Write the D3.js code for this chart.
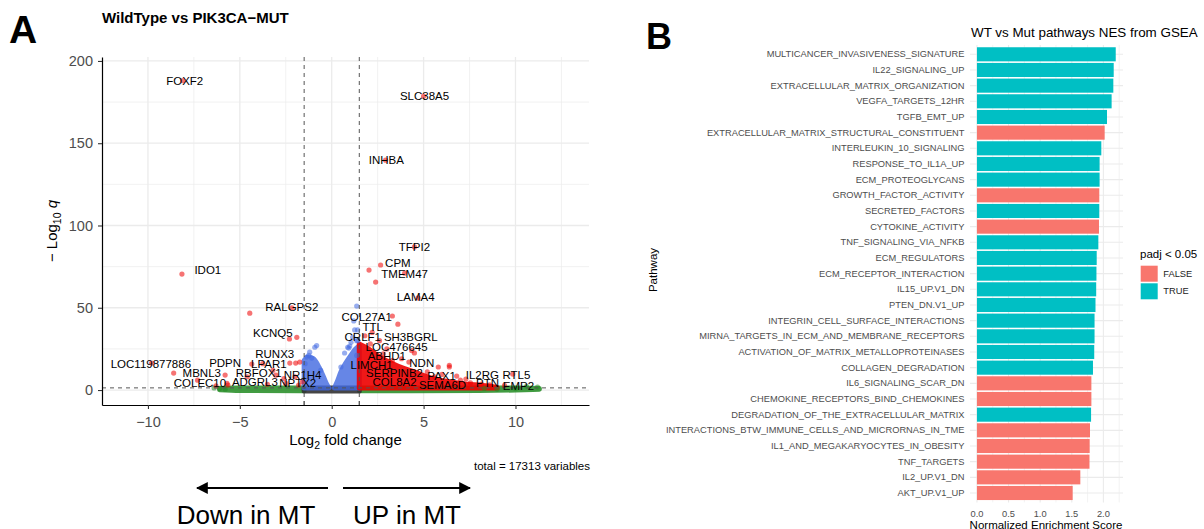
<!DOCTYPE html>
<html>
<head>
<meta charset="utf-8">
<script src="https://cdn.jsdelivr.net/npm/d3@7"></script>
<style>
body { margin: 0; background: #fff; }
svg { display: block; font-family: "Liberation Sans", Arial, Helvetica, sans-serif; }
</style>
</head>
<body>
<svg id="fig" width="1204" height="529"></svg>
<script>
// ---------------- data: panel A (volcano) ----------------
const xTicksA = [-10, -5, 0, 5, 10];
const yTicksA = [0, 50, 100, 150, 200];
const xMinorA = [-7.5, -2.5, 2.5, 7.5, 12.5];
const yMinorA = [25, 75, 125, 175];
const fcCut = 1.5;
const qCut = 1.3;

// dense clouds, [log2FC, low, high] in -log10 q
const nsCloud = [[-1.5, -0.6, 1.2], [1.5, -0.6, 1.2]];
const greenLeft = [[-6.1, 0.2, 1.0], [-5, -0.3, 1.3], [-1.5, -0.5, 1.3]];
const greenRight = [[1.5, -0.5, 1.3], [8, -0.3, 1.3], [10, 0, 1.2], [11.3, 0.4, 1.0]];
const blueLeft = [[-1.5, 1.3, 18], [-1.3, 1.3, 20], [-1.0, 1.3, 19], [-0.7, 1.3, 14], [-0.45, 1.3, 8], [-0.25, 1.3, 3], [-0.15, 1.3, 1.3]];
const blueRight = [[0.15, 1.3, 1.3], [0.3, 1.3, 5], [0.5, 1.3, 11], [0.8, 1.3, 17], [1.1, 1.3, 22], [1.3, 1.3, 25], [1.5, 1.3, 27]];
const redRight = [[1.5, 1.3, 28], [2.0, 1.3, 25], [2.5, 1.3, 21], [3.5, 1.3, 15], [4.5, 1.3, 11], [5.5, 1.3, 7], [7, 1.3, 4], [8.5, 1.3, 2.4], [9, 1.3, 1.6]];

// scattered points [log2FC, -log10 q]
const redPts = [
  [-8.1, 188], [5.0, 178.6], [2.93, 139.7], [4.5, 87], [2.66, 76], [2.03, 72.9], [3.97, 71], [2.39, 65.6],
  [4.7, 56], [-8.15, 70.5], [-4.46, 46.7], [-2.17, 50], [-1.9, 32], [-2.3, 31], [-9.8, 16.4], [-8.6, 10.3],
  [-7.3, 6], [-6.3, 2.5], [-5.65, 3], [-5.8, 9.1], [-4.35, 15.8], [-3.75, 16], [-3.04, 9], [-2.28, 16.4],
  [-1.96, 16.4], [-1.74, 17], [-3.2, 12], [-2.0, 8], [-4.6, 8], [-5.7, 4], [3.3, 45], [3.6, 40],
  [4.5, 22.5], [4.35, 24], [5.8, 14], [6.4, 14], [6.8, 8.5], [7.55, 4.3], [8.15, 3.6], [9.85, 9.7],
  [7.3, 6.7], [5.6, 8], [6.4, 15], [2.2, 35], [2.6, 30], [1.8, 33], [3.0, 25], [3.8, 19], [4.2, 17],
  [5.2, 11], [6.0, 9.5], [7.0, 6], [8.6, 3.2], [9.4, 2.8], [2.1, 28], [2.8, 22], [3.3, 18],
  [-1.6, 5], [-1.8, 3], [-2.5, 4], [-3.5, 3.5], [-2.6, 7]
];
const bluePts = [
  [-0.92, 26], [-1.25, 21], [-1.36, 20], [-1.09, 19.4], [-0.82, 27], [1.36, 51], [1.25, 36.5], [0.98, 26.7],
  [0.87, 26], [1.41, 36.5], [1.36, 30], [1.14, 32], [1.36, 21], [0.7, 22.5], [0.93, 25.5], [1.42, 30],
  [-1.45, 16], [-0.6, 12], [0.5, 14], [1.2, 42], [-1.2, 23], [1.05, 29]
];
const greenPts = [[-6.1, 1], [-5.8, 0.5], [-6.4, 1.3], [11.2, 1.8], [10.6, 2.3], [10.0, 1.0], [8.3, 1], [9.0, 0.6]];

// gene labels [name, log2FC, -log10 q] (label centre)
const geneLabels = [
  ["FOXF2", -8.0, 187.7], ["SLC38A5", 5.05, 178.6], ["INHBA", 2.97, 139.7], ["TFPI2", 4.5, 86.9],
  ["CPM", 3.6, 77.2], ["TMEM47", 3.97, 70.5], ["LAMA4", 4.57, 56.5], ["IDO1", -6.74, 72.9],
  ["RALGPS2", -2.17, 50.4], ["KCNQ5", -3.2, 34.6], ["RUNX3", -3.1, 21.9], ["LOC119877886", -9.84, 15.8],
  ["MBNL3", -7.07, 10.3], ["PDPN", -5.8, 16.4], ["LPAR1", -3.42, 15.8], ["RBFOX1", -3.97, 10.3],
  ["NR1H4", -1.58, 9.1], ["COLEC10", -7.17, 4.25], ["ADGRL3", -4.18, 4.9], ["NPTX2", -1.85, 4.25],
  ["COL27A1", 1.9, 44.4], ["TTL", 2.23, 38.3], ["CRLF1", 1.69, 32.2], ["SH3BGRL", 4.3, 32.2],
  ["LOC476645", 3.53, 26.1], ["ABHD1", 3.0, 20.7], ["NDN", 4.9, 16.4], ["LIMCH1", 2.17, 15.2],
  ["SERPINB2", 3.42, 10.3], ["PAX1", 5.98, 8.5], ["IL2RG", 8.2, 9.1], ["RTL5", 10.05, 9.1],
  ["COL8A2", 3.42, 4.9], ["SEMA6D", 6.03, 3.0], ["PTN", 8.48, 4.25], ["EMP2", 10.16, 2.4]
];
const totalVars = 17313;

// ---------------- data: panel B (GSEA NES) ----------------
const pathways = [
  "MULTICANCER_INVASIVENESS_SIGNATURE", "IL22_SIGNALING_UP", "EXTRACELLULAR_MATRIX_ORGANIZATION",
  "VEGFA_TARGETS_12HR", "TGFB_EMT_UP", "EXTRACELLULAR_MATRIX_STRUCTURAL_CONSTITUENT",
  "INTERLEUKIN_10_SIGNALING", "RESPONSE_TO_IL1A_UP", "ECM_PROTEOGLYCANS", "GROWTH_FACTOR_ACTIVITY",
  "SECRETED_FACTORS", "CYTOKINE_ACTIVITY", "TNF_SIGNALING_VIA_NFKB", "ECM_REGULATORS",
  "ECM_RECEPTOR_INTERACTION", "IL15_UP.V1_DN", "PTEN_DN.V1_UP", "INTEGRIN_CELL_SURFACE_INTERACTIONS",
  "MIRNA_TARGETS_IN_ECM_AND_MEMBRANE_RECEPTORS", "ACTIVATION_OF_MATRIX_METALLOPROTEINASES",
  "COLLAGEN_DEGRADATION", "IL6_SIGNALING_SCAR_DN", "CHEMOKINE_RECEPTORS_BIND_CHEMOKINES",
  "DEGRADATION_OF_THE_EXTRACELLULAR_MATRIX", "INTERACTIONS_BTW_IMMUNE_CELLS_AND_MICRORNAS_IN_TME",
  "IL1_AND_MEGAKARYOCYTES_IN_OBESITY", "TNF_TARGETS", "IL2_UP.V1_DN", "AKT_UP.V1_UP"
];
const nes = [
  2.195, 2.163, 2.157, 2.13, 2.057, 2.02, 1.967, 1.94, 1.94, 1.935,
  1.935, 1.93, 1.92, 1.894, 1.89, 1.886, 1.875, 1.86, 1.86, 1.855,
  1.835, 1.81, 1.81, 1.805, 1.788, 1.783, 1.78, 1.635, 1.514
];
const padjSig = [
  true, true, true, true, true, false, true, true, true, false,
  true, false, true, true, true, true, true, true, true, true,
  true, false, false, true, false, false, false, false, false
];
const xTicksB = [0, 0.5, 1.0, 1.5, 2.0];
const xMinorB = [0.25, 0.75, 1.25, 1.75, 2.25];

// ---------------- drawing ----------------
const svg = d3.select("#fig");
svg.append("rect").attr("width", 1204).attr("height", 529).attr("fill", "#fff");

const grid = "#ebebeb";
const textGrey = "#4d4d4d";

// ===== Panel A =====
const xA = d3.scaleLinear([-12.5, 14], [102, 589]);
const yA = d3.scaleLinear([-9.1, 202.4], [405, 57]);
const gA = svg.append("g");

// grid lines
gA.append("g").selectAll("line").data(xMinorA).join("line")
  .attr("x1", d => xA(d)).attr("x2", d => xA(d)).attr("y1", 57).attr("y2", 405)
  .attr("stroke", grid).attr("stroke-width", 0.7);
gA.append("g").selectAll("line").data(yMinorA).join("line")
  .attr("y1", d => yA(d)).attr("y2", d => yA(d)).attr("x1", 102).attr("x2", 589)
  .attr("stroke", grid).attr("stroke-width", 0.7);
gA.append("g").selectAll("line").data(xTicksA).join("line")
  .attr("x1", d => xA(d)).attr("x2", d => xA(d)).attr("y1", 57).attr("y2", 405)
  .attr("stroke", grid).attr("stroke-width", 1.3);
gA.append("g").selectAll("line").data(yTicksA).join("line")
  .attr("y1", d => yA(d)).attr("y2", d => yA(d)).attr("x1", 102).attr("x2", 589)
  .attr("stroke", grid).attr("stroke-width", 1.3);

// dense clouds
const cloud = d3.area().curve(d3.curveMonotoneX)
  .x(d => xA(d[0])).y0(d => yA(d[1])).y1(d => yA(d[2]));
function drawCloud(data, color, op) {
  gA.append("g").attr("opacity", op)
    .append("path").attr("d", cloud(data))
    .attr("fill", color).attr("stroke", color)
    .attr("stroke-width", 5).attr("stroke-linejoin", "round");
}
drawCloud(greenLeft, "#228B22", 0.85);
drawCloud(greenRight, "#228B22", 0.85);
drawCloud(nsCloud, "#333333", 0.9);
drawCloud(blueLeft, "#4169E1", 0.8);
drawCloud(blueRight, "#4169E1", 0.8);
drawCloud(redRight, "#EE0000", 0.9);

// scattered points
function drawPts(data, color) {
  gA.append("g").selectAll("circle").data(data).join("circle")
    .attr("cx", d => xA(d[0])).attr("cy", d => yA(d[1])).attr("r", 2.6)
    .attr("fill", color).attr("fill-opacity", 0.55);
}
drawPts(greenPts, "#228B22");
drawPts(bluePts, "#4169E1");
drawPts(redPts, "#EE0000");

// cut-off lines
gA.append("g").selectAll("line").data([-fcCut, fcCut]).join("line")
  .attr("x1", d => xA(d)).attr("x2", d => xA(d)).attr("y1", 57).attr("y2", 405)
  .attr("stroke", "#555").attr("stroke-width", 1).attr("stroke-dasharray", "4,4");
gA.append("line")
  .attr("x1", 102).attr("x2", 589).attr("y1", yA(qCut)).attr("y2", yA(qCut))
  .attr("stroke", "#555").attr("stroke-width", 1).attr("stroke-dasharray", "4,4");

// gene labels
gA.append("g").selectAll("text").data(geneLabels).join("text")
  .attr("x", d => xA(d[1])).attr("y", d => yA(d[2]))
  .attr("text-anchor", "middle").attr("dominant-baseline", "central")
  .attr("font-size", 11.5).attr("fill", "#000")
  .text(d => d[0]);

// axes
const axA_x = gA.append("g").attr("transform", "translate(0,405)")
  .call(d3.axisBottom(xA).tickValues(xTicksA).tickSize(4).tickSizeOuter(0).tickPadding(8));
const axA_y = gA.append("g").attr("transform", "translate(102,0)")
  .call(d3.axisLeft(yA).tickValues(yTicksA).tickSize(4).tickSizeOuter(0).tickPadding(5));
[axA_x, axA_y].forEach(ax => {
  ax.select(".domain").attr("stroke", "#000").attr("stroke-width", 1.2);
  ax.selectAll(".tick line").attr("stroke", "#333").attr("stroke-width", 1.1);
  ax.selectAll(".tick text").attr("font-size", 14.5).attr("fill", textGrey)
    .attr("font-family", "Liberation Sans, Arial, sans-serif");
});
// small ticks at the cut-offs on the x axis
gA.append("g").selectAll("line").data([-fcCut, fcCut]).join("line")
  .attr("x1", d => xA(d)).attr("x2", d => xA(d)).attr("y1", 405).attr("y2", 401)
  .attr("stroke", "#555");

// titles
svg.append("text").attr("x", 9).attr("y", 43)
  .attr("font-size", 39).attr("font-weight", "bold").text("A");
svg.append("text").attr("x", 102).attr("y", 23)
  .attr("font-size", 15).attr("font-weight", "bold").text("WildType vs PIK3CA\u2212MUT");

const xl = svg.append("text").attr("x", 345.5).attr("y", 445)
  .attr("text-anchor", "middle").attr("font-size", 15).attr("fill", "#000");
xl.append("tspan").text("Log");
xl.append("tspan").attr("font-size", 10.5).attr("dy", 4).text("2");
xl.append("tspan").attr("dy", -4).text(" fold change");

const yl = svg.append("text").attr("transform", "translate(57,231) rotate(-90)")
  .attr("text-anchor", "middle").attr("font-size", 15).attr("fill", "#000");
yl.append("tspan").text("\u2212 Log");
yl.append("tspan").attr("font-size", 10.5).attr("dy", 4).text("10");
yl.append("tspan").attr("dy", -4).attr("font-style", "italic").text(" q");

svg.append("text").attr("x", 590).attr("y", 470)
  .attr("text-anchor", "end").attr("font-size", 11.5).attr("fill", "#000")
  .text(`total = ${totalVars} variables`);

// direction arrows
const defs = svg.append("defs");
defs.append("marker").attr("id", "head").attr("viewBox", "0 0 10 10")
  .attr("refX", 9).attr("refY", 5).attr("markerWidth", 6).attr("markerHeight", 6)
  .attr("markerUnits", "strokeWidth").attr("orient", "auto")
  .append("path").attr("d", "M0,0 L10,5 L0,10 Z").attr("fill", "#000");
svg.append("line").attr("x1", 328).attr("x2", 197).attr("y1", 488).attr("y2", 488)
  .attr("stroke", "#000").attr("stroke-width", 2).attr("marker-end", "url(#head)");
svg.append("line").attr("x1", 343).attr("x2", 470).attr("y1", 488).attr("y2", 488)
  .attr("stroke", "#000").attr("stroke-width", 2).attr("marker-end", "url(#head)");
svg.append("text").attr("x", 246).attr("y", 524).attr("text-anchor", "middle")
  .attr("font-size", 26).text("Down in MT");
svg.append("text").attr("x", 407).attr("y", 524).attr("text-anchor", "middle")
  .attr("font-size", 26).text("UP in MT");

// ===== Panel B =====
const xB = d3.scaleLinear([-0.11, 2.31], [970, 1123]);
const yB = d3.scalePoint(pathways, [54.3, 493]);
const barH = yB.step() * 0.9;
const bTop = 54.3 - yB.step() * 0.6, bBottom = 493 + yB.step() * 0.6;
const gB = svg.append("g");

gB.append("g").selectAll("line").data(xMinorB).join("line")
  .attr("x1", d => xB(d)).attr("x2", d => xB(d)).attr("y1", bTop).attr("y2", bBottom)
  .attr("stroke", grid).attr("stroke-width", 0.6);
gB.append("g").selectAll("line").data(xTicksB).join("line")
  .attr("x1", d => xB(d)).attr("x2", d => xB(d)).attr("y1", bTop).attr("y2", bBottom)
  .attr("stroke", grid).attr("stroke-width", 1.1);
gB.append("g").selectAll("line").data(pathways).join("line")
  .attr("y1", d => yB(d)).attr("y2", d => yB(d)).attr("x1", 970).attr("x2", 1123)
  .attr("stroke", grid).attr("stroke-width", 1.1);

const color = d3.scaleOrdinal([false, true], ["#F8766D", "#00BFC4"]);
gB.append("g").selectAll("rect").data(pathways).join("rect")
  .attr("x", xB(0)).attr("y", d => yB(d) - barH / 2)
  .attr("width", (d, i) => xB(nes[i]) - xB(0)).attr("height", barH)
  .attr("fill", (d, i) => color(padjSig[i]));

gB.append("g").selectAll("text").data(pathways).join("text")
  .attr("x", 964.5).attr("y", d => yB(d)).attr("text-anchor", "end")
  .attr("dominant-baseline", "central").attr("font-size", 9.3).attr("fill", textGrey)
  .text(d => d);

gB.append("g").selectAll("text").data(xTicksB).join("text")
  .attr("x", d => xB(d)).attr("y", 516.5).attr("text-anchor", "middle")
  .attr("font-size", 9.3).attr("fill", textGrey)
  .text(d => d3.format(".1f")(d));

svg.append("text").attr("x", 1046).attr("y", 529).attr("text-anchor", "middle")
  .attr("font-size", 11.5).attr("fill", "#000").text("Normalized Enrichment Score");
svg.append("text").attr("transform", "translate(657,270) rotate(-90)")
  .attr("text-anchor", "middle").attr("font-size", 11.5).attr("fill", "#000").text("Pathway");
svg.append("text").attr("x", 971).attr("y", 37)
  .attr("font-size", 13.4).attr("fill", "#000").text("WT vs Mut pathways NES from GSEA");
svg.append("text").attr("x", 646).attr("y", 49)
  .attr("font-size", 36).attr("font-weight", "bold").text("B");

// legend
const lg = svg.append("g").attr("transform", "translate(1140,0)");
lg.append("text").attr("x", 0).attr("y", 258).attr("font-size", 11.5).attr("fill", "#000").text("padj < 0.05");
const keys = [false, true];
lg.selectAll("rect").data(keys).join("rect")
  .attr("x", 0.7).attr("y", (d, i) => 265.7 + i * 17.6).attr("width", 17).attr("height", 16)
  .attr("fill", d => color(d));
lg.selectAll("text.k").data(keys).join("text").attr("class", "k")
  .attr("x", 23.3).attr("y", (d, i) => 273.7 + i * 17.6).attr("dominant-baseline", "central")
  .attr("font-size", 9.3).attr("fill", "#222")
  .text(d => d ? "TRUE" : "FALSE");
</script>
</body>
</html>
